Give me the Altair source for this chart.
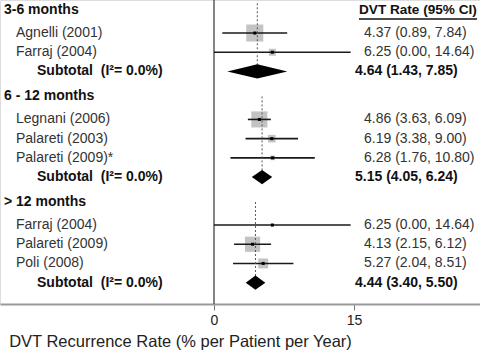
import altair as alt
import pandas as pd

# ---- data ----
labels = ["3-6 months", "Agnelli (2001)", "Farraj (2004)", "Subtotal\u00a0 (I\u00b2= 0.0%)",
          "6 - 12 months", "Legnani (2006)", "Palareti (2003)", "Palareti (2009)*", "Subtotal\u00a0 (I\u00b2= 0.0%)",
          "> 12 months", "Farraj (2004)", "Palareti (2009)", "Poli (2008)", "Subtotal\u00a0 (I\u00b2= 0.0%)"]
kinds = ["header", "study", "study", "subtotal",
         "header", "study", "study", "study", "subtotal",
         "header", "study", "study", "study", "subtotal"]
groups = [1, 1, 1, 1, 2, 2, 2, 2, 2, 3, 3, 3, 3, 3]
est = [None, 4.37, 6.25, 4.64, None, 4.86, 6.19, 6.28, 5.15, None, 6.25, 4.13, 5.27, 4.44]
lo = [None, 0.89, 0.00, 1.43, None, 3.63, 3.38, 1.76, 4.05, None, 0.00, 2.15, 2.04, 3.40]
hi = [None, 7.84, 14.64, 7.85, None, 6.09, 9.00, 10.80, 6.24, None, 14.64, 6.12, 8.51, 5.50]
weights = [None, 85.5, 14.5, None, None, 76.5, 16.9, 6.6, None, None, 2.1, 69.0, 28.9, None]

column_header = "DVT Rate (95% CI)"
x_title = "DVT Recurrence Rate (% per Patient per Year)"
x_ticks = [0, 15]

# ---- row positions (extra space around group headers) ----
pos = []
for i, k in enumerate(kinds):
    if i == 0:
        pos.append(0.0)
    elif k == "header":
        pos.append(pos[-1] + 1.3)
    elif kinds[i - 1] == "header":
        pos.append(pos[-1] + 1.2)
    else:
        pos.append(pos[-1] + 1.0)

rows = pd.DataFrame({"label": labels, "kind": kinds, "group": groups, "est": est,
                     "lo": lo, "hi": hi, "weight": weights, "pos": pos})
rows["txt"] = [f"{e:.2f} ({l:.2f}, {h:.2f})" if e is not None and not pd.isna(e) else ""
               for e, l, h in zip(est, lo, hi)]

studies = rows[rows.kind == "study"]
subs = rows[rows.kind == "subtotal"]
heads = rows[rows.kind == "header"]

# diamond polygons
dia = []
h = 0.37
for _, r in subs.iterrows():
    dia.append({"g": r.group, "x": r.lo, "y": r.pos, "y2": r.pos})
    dia.append({"g": r.group, "x": r.est, "y": r.pos - h, "y2": r.pos + h})
    dia.append({"g": r.group, "x": r.hi, "y": r.pos, "y2": r.pos})
dia = pd.DataFrame(dia)

# dotted lines from group header to subtotal
dots = []
for g in [1, 2, 3]:
    hp = heads[heads.group == g].pos.iloc[0]
    s = subs[subs.group == g].iloc[0]
    dots.append({"x": s.est, "y": hp - (0.35 if g == 1 else 0.0), "y2": s.pos})
dots = pd.DataFrame(dots)

W, H = 480, 304
px_per_unit = 140 / 15
xdom = [-214 / px_per_unit, (W - 214) / px_per_unit]
ydom = [-10 / 19.2, (H - 10) / 19.2]

FONT = "Liberation Sans"
xs = alt.Scale(domain=xdom, nice=False, zero=False)
ys = alt.Scale(domain=ydom, nice=False, zero=False, reverse=True)
Y = alt.Y("pos:Q", scale=ys, axis=None)

base_axis = alt.Axis(values=x_ticks, title=x_title, grid=False, labelFontSize=14, labelFont=FONT,
                     labelColor="#222", labelPadding=3, tickSize=6, tickColor="#777",
                     domainColor="#9a9a9a", domainWidth=2, titleFont=FONT, titleFontSize=16.5,
                     titleFontWeight="normal", titleColor="#222", titleX=180, titleY=37,
                     titleBaseline="middle", titleAlign="center", labelFlush=False)

zero_line = alt.Chart(pd.DataFrame({"v": [0]})).mark_rule(color="#333", strokeWidth=1.2).encode(
    x=alt.X("v:Q", scale=xs, axis=base_axis))

squares = alt.Chart(studies).mark_square(color="#c3c3c3", opacity=1).encode(
    x=alt.X("est:Q", scale=xs), y=Y,
    size=alt.Size("weight:Q", scale=alt.Scale(domain=[0, 100], range=[0, 338]), legend=None))

ci = alt.Chart(studies).mark_rule(color="#1a1a1a", strokeWidth=1.6).encode(
    x=alt.X("lo:Q", scale=xs), x2="hi:Q", y=Y)

dotted = alt.Chart(dots).mark_rule(color="#555", strokeWidth=1, strokeDash=[2, 2]).encode(
    x=alt.X("x:Q", scale=xs), y=alt.Y("y:Q", scale=ys, axis=None), y2="y2:Q")

centers = alt.Chart(studies).mark_square(color="black", size=9, opacity=1).encode(
    x=alt.X("est:Q", scale=xs), y=Y)

diamonds = alt.Chart(dia).mark_area(color="black", opacity=1).encode(
    x=alt.X("x:Q", scale=xs), y=alt.Y("y:Q", scale=ys, axis=None), y2="y2:Q", detail="g:N")

def txt(df, x, weight, field, size=14, color="#222"):
    return alt.Chart(df).mark_text(align="left", baseline="middle", font=FONT, fontSize=size,
                                   fontWeight=weight, color=color).encode(
        x=alt.value(x), y=Y, text=f"{field}:N")

t_heads = txt(heads, 4, "bold", "label", color="#111")
t_studies = txt(studies, 16, "normal", "label", color="#333")
t_subs = txt(subs, 37, "bold", "label", color="#111")
t_svals = txt(studies, 364, "normal", "txt", color="#333")
t_subvals = txt(subs, 355, "bold", "txt", color="#111")

hdr = pd.DataFrame({"label": [column_header], "pos": [0.0]})
t_col = txt(hdr, 359, "bold", "label", size=13.6, color="#111")
underline = alt.Chart(hdr).mark_rule(color="#111", strokeWidth=1.5).encode(
    x=alt.value(359), x2=alt.value(477), y=alt.value(19))

chart = alt.layer(zero_line, squares, ci, dotted, centers, diamonds,
                  t_heads, t_studies, t_subs, t_svals, t_subvals, t_col, underline).properties(
    width=W, height=H, autosize="none",
    padding={"left": 0, "right": 0, "top": 0, "bottom": 46},
).configure_view(stroke=None).configure(background="white")

chart.save("out.html", embed_options={"renderer": "svg", "actions": False})
